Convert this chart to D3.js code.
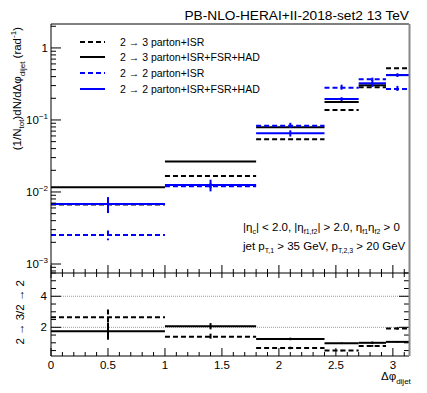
<!DOCTYPE html>
<html><head><meta charset="utf-8">
<script src="https://cdn.jsdelivr.net/npm/d3@7/dist/d3.min.js"></script>
<style>body{margin:0;background:#fff;}svg{display:block;font-family:"Liberation Sans",Arial,Helvetica,sans-serif;}</style>
</head><body><svg id="c" width="427" height="393"></svg>
<script>
// ---- data ----
const binEdges = [0, 1, 1.8, 2.4, 2.7, 2.94, 3.14159];
const binCenters = [0.5, 1.4, 2.1, 2.55, 2.82, 3.04];
const s23ISR  = [0.0067, 0.0167, 0.054, 0.138, 0.284, 0.522];
const s23FULL = [0.0116, 0.0264, 0.079, 0.178, 0.303, 0.42];
const s22ISR  = [0.00253, 0.012, 0.0833, 0.281, 0.367, 0.27];
const s22FULL = [0.0068, 0.0125, 0.0653, 0.195, 0.323, 0.42];
const s22ISRerr  = [0.0004, 0.0012, 0.008, 0.028, 0.02, 0.027];
const s22FULLerr = [0.0017, 0.0023, 0.0065, 0.012, 0.035, 0.025];
const ratioISR  = [2.65, 1.39, 0.67, 0.5, 0.8, 1.93];
const ratioISRerr = [0.5, 0.2, 0.08, 0.05, 0.06, 0.08];
const ratioFULL = [1.74, 2.07, 1.25, 0.97, 1.0, 1.06];
const ratioFULLerr = [0.54, 0.2, 0.08, 0.05, 0.08, 0.05];
const xTicks = [0, 0.5, 1, 1.5, 2, 2.5, 3];
const yTopTicks = [1, 0.1, 0.01, 0.001];
const yTopTickExp = ["", "\u22121", "\u22122", "\u22123"];
const yBotTicks = [2, 4];
const legendLabels = ["2 \u2192 3 parton+ISR", "2 \u2192 3 parton+ISR+FSR+HAD", "2 \u2192 2 parton+ISR", "2 \u2192 2 parton+ISR+FSR+HAD"];

const svg = d3.select("#c");
const L = 51, R = 409, T = 24, M = 273, B = 356;
const x = d3.scaleLinear().domain([0, Math.PI]).range([L, R]);
const yT = d3.scaleLog().domain([7.5e-4, 2.15]).range([M, T]);
const yB = d3.scaleLinear().domain([0.15, 5.5]).range([B, M]);

const series = [
  {v: s23ISR, e: null, c: "#000", dash: "5,3"},
  {v: s23FULL, e: null, c: "#000", dash: null},
  {v: s22ISR, e: s22ISRerr, c: "#0000ff", dash: "5,3"},
  {v: s22FULL, e: s22FULLerr, c: "#0000ff", dash: null}
];

// dotted reference lines in ratio
yBotTicks.forEach(t => svg.append("line").attr("x1", L).attr("x2", R).attr("y1", yB(t)).attr("y2", yB(t))
  .attr("stroke", "#999").attr("stroke-width", 1).attr("stroke-dasharray", "1,1"));

function drawHist(g, ys, vals, errs, col, dash) {
  vals.forEach((v, i) => {
    g.append("line").attr("x1", x(binEdges[i])).attr("x2", x(binEdges[i+1]))
      .attr("y1", ys(v)).attr("y2", ys(v)).attr("stroke", col).attr("stroke-width", 2)
      .attr("stroke-dasharray", dash);
    if (errs) {
      g.append("line").attr("x1", x(binCenters[i])).attr("x2", x(binCenters[i]))
        .attr("y1", ys(v + errs[i])).attr("y2", ys(Math.max(v - errs[i], 1e-6)))
        .attr("stroke", col).attr("stroke-width", 2).attr("stroke-dasharray", dash);
    }
  });
}
const gT = svg.append("g");
series.forEach(s => drawHist(gT, yT, s.v, s.e, s.c, s.dash));
const gB = svg.append("g");
drawHist(gB, yB, ratioISR, ratioISRerr, "#000", "5,3");
drawHist(gB, yB, ratioFULL, ratioFULLerr, "#000", null);

// frames
const ax = svg.append("g").attr("stroke", "#000").attr("stroke-width", 1);
ax.append("line").attr("x1", L).attr("x2", L).attr("y1", T).attr("y2", B);
ax.append("line").attr("x1", L).attr("x2", R).attr("y1", T).attr("y2", T);
ax.append("line").attr("x1", L).attr("x2", R).attr("y1", M).attr("y2", M);
ax.append("line").attr("x1", L).attr("x2", R).attr("y1", B).attr("y2", B);

// x ticks (minor 0.1, major 0.5)
d3.range(0, 3.15, 0.1).forEach(t => {
  const maj = Math.abs(t * 2 - Math.round(t * 2)) < 1e-6;
  const len = maj ? 8 : 4;
  const xx = x(t);
  ax.append("line").attr("x1", xx).attr("x2", xx).attr("y1", M).attr("y2", M - len);
  ax.append("line").attr("x1", xx).attr("x2", xx).attr("y1", M).attr("y2", M + (maj ? 5 : 4));
  ax.append("line").attr("x1", xx).attr("x2", xx).attr("y1", B).attr("y2", B - len);
});
// top y ticks
yTopTicks.forEach(t => {
  ax.append("line").attr("x1", L).attr("x2", L + 10).attr("y1", yT(t)).attr("y2", yT(t));
  [2,3,4,5,6,7,8,9].forEach(k => {
    const v = t * k;
    if (v < 2.15) ax.append("line").attr("x1", L).attr("x2", L + 5).attr("y1", yT(v)).attr("y2", yT(v));
  });
});
[8,9].forEach(k => ax.append("line").attr("x1", L).attr("x2", L + 5).attr("y1", yT(k * 1e-4)).attr("y2", yT(k * 1e-4)));
// bottom y ticks
d3.range(0.5, 5.51, 0.5).forEach(t => {
  const maj = yBotTicks.includes(t);
  const len = maj ? 10 : 5;
  ax.append("line").attr("x1", L).attr("x2", L + len).attr("y1", yB(t)).attr("y2", yB(t));
  ax.append("line").attr("x1", R).attr("x2", R - len).attr("y1", yB(t)).attr("y2", yB(t));
});

// tick labels
const fs = 11.5;
xTicks.forEach(t => svg.append("text").attr("x", x(t)).attr("y", 369).attr("text-anchor", "middle")
  .attr("font-size", fs).text(d3.format("")(t)));
yTopTicks.forEach((t, i) => {
  const tx = svg.append("text").attr("x", 48).attr("y", yT(t) + 4).attr("text-anchor", "end").attr("font-size", fs);
  if (i === 0) tx.text("1");
  else { tx.text("10"); tx.append("tspan").attr("dy", -5).attr("font-size", 8).text(yTopTickExp[i]); }
});
yBotTicks.forEach(t => svg.append("text").attr("x", 47).attr("y", yB(t) + 4).attr("text-anchor", "end")
  .attr("font-size", fs).text(t));

// axis titles
const yt = svg.append("text").attr("transform", "translate(21,27) rotate(-90)").attr("text-anchor", "end").attr("font-size", 11.5);
yt.append("tspan").text("(1/N");
yt.append("tspan").attr("dy", 3).attr("font-size", 8).text("tot");
yt.append("tspan").attr("dy", -3).text(")dN/d\u0394\u03c6");
yt.append("tspan").attr("dy", 4).attr("font-size", 8).text("dijet");
yt.append("tspan").attr("dy", -4).text(" (rad");
yt.append("tspan").attr("dy", -5).attr("font-size", 8).text("-1");
yt.append("tspan").attr("dy", 5).text(")");
svg.append("text").attr("transform", "translate(24,280) rotate(-90)").attr("text-anchor", "end")
  .attr("font-size", 11.5).text("2 \u2192 3/2 \u2192 2");
const xt = svg.append("text").attr("x", 381).attr("y", 380).attr("font-size", 11.5);
xt.append("tspan").text("\u0394\u03c6");
xt.append("tspan").attr("dy", 4).attr("font-size", 8).text("dijet");

// title
svg.append("text").attr("x", 409).attr("y", 20).attr("text-anchor", "end").attr("font-size", 13.7)
  .text("PB-NLO-HERAI+II-2018-set2 13 TeV");

// legend
const legY = [42, 57, 73, 89];
legendLabels.forEach((lab, i) => {
  const s = series[i];
  svg.append("line").attr("x1", 80).attr("x2", 105).attr("y1", legY[i]).attr("y2", legY[i])
    .attr("stroke", s.c).attr("stroke-width", 2).attr("stroke-dasharray", s.dash);
  svg.append("text").attr("x", 120).attr("y", legY[i] + 4).attr("font-size", 10.5).text(lab);
});

// annotation
const a1 = svg.append("text").attr("x", 243).attr("y", 231).attr("font-size", 11.5);
a1.append("tspan").text("|\u03b7");
a1.append("tspan").attr("dy", 3).attr("font-size", 7).text("c");
a1.append("tspan").attr("dy", -3).text("| < 2.0, |\u03b7");
a1.append("tspan").attr("dy", 3).attr("font-size", 7).text("f1,f2");
a1.append("tspan").attr("dy", -3).text("| > 2.0, \u03b7");
a1.append("tspan").attr("dy", 3).attr("font-size", 7).text("f1");
a1.append("tspan").attr("dy", -3).text("\u03b7");
a1.append("tspan").attr("dy", 3).attr("font-size", 7).text("f2");
a1.append("tspan").attr("dy", -3).text(" > 0");
const a2 = svg.append("text").attr("x", 243).attr("y", 250).attr("font-size", 11.5);
a2.append("tspan").text("jet p");
a2.append("tspan").attr("dy", 3).attr("font-size", 7).text("T,1");
a2.append("tspan").attr("dy", -3).text(" > 35 GeV, p");
a2.append("tspan").attr("dy", 3).attr("font-size", 7).text("T,2,3");
a2.append("tspan").attr("dy", -3).text(" > 20 GeV");
// right edge (covers overflowing text)
svg.append("rect").attr("x", R + 1.5).attr("y", T).attr("width", 20).attr("height", B - T).attr("fill", "#fff");
svg.append("line").attr("x1", R + 0.5).attr("x2", R + 0.5).attr("y1", T).attr("y2", B)
  .attr("stroke", "#888").attr("stroke-width", 2);
</script></body></html>
